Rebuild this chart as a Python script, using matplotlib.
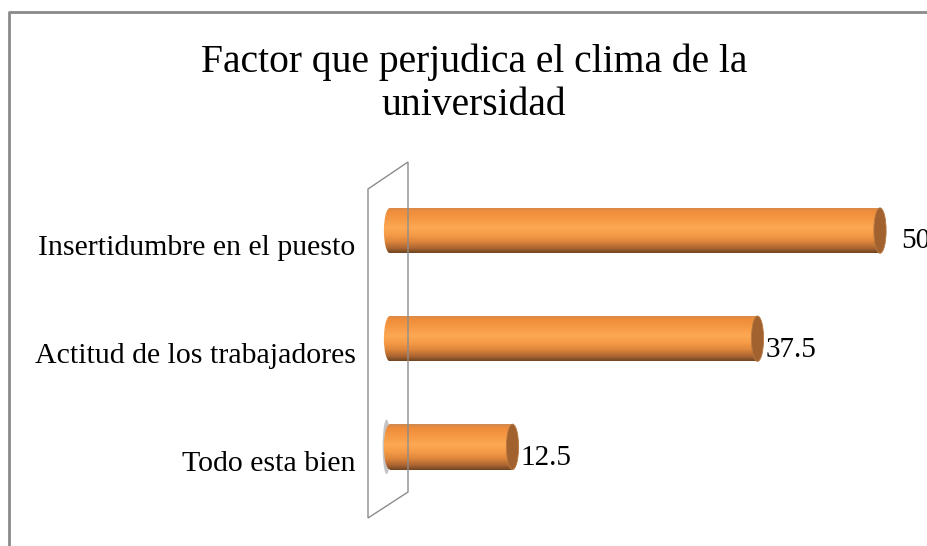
import numpy as np
import matplotlib
matplotlib.use("Agg")
import matplotlib.pyplot as plt
from matplotlib.patches import Ellipse, Polygon, Rectangle
from matplotlib.colors import LinearSegmentedColormap

categories = ["Insertidumbre en el puesto", "Actitud de los trabajadores", "Todo esta bien"]
values = [50, 37.5, 12.5]
value_labels = ["50", "37.5", "12.5"]
title = "Factor que perjudica el clima de la\nuniversidad"

W, H = 928, 546
plt.rcParams["font.family"] = ["Liberation Serif", "DejaVu Serif"]

fig = plt.figure(figsize=(W / 100, H / 100), dpi=100)
fig.patch.set_facecolor("white")

# x scale: 0 -> 390 px, 50 -> 880 px (9.8 px per unit)
px_per_unit = 9.8
x0_px = 390
xmin, xmax = -4, 52
ax_left = x0_px + xmin * px_per_unit
ax_right = x0_px + xmax * px_per_unit
ax_top, ax_bot = 183, 529
ax = fig.add_axes([ax_left / W, 1 - ax_bot / H, (ax_right - ax_left) / W, (ax_bot - ax_top) / H])
ax.axis("off")

cyl = LinearSegmentedColormap.from_list("cyl", [
    (0.0, "#cf8a52"), (0.08, "#ee8c3a"), (0.3, "#f89c47"), (0.45, "#fca854"),
    (0.6, "#f69c48"), (0.75, "#de863b"), (0.9, "#a96431"), (1.0, "#6e4421")])
grad = np.linspace(0, 1, 256).reshape(-1, 1)

bar_h = 0.42
offset = -0.16  # 3d perspective lift of the bars
cap_w = 1.25

# faint shadow on the wall behind the shortest bar
ax.add_patch(Ellipse((-0.35, 2 + offset), 0.8, bar_h * 1.2, facecolor="#8a8a8a",
                     edgecolor="none", alpha=0.5, zorder=2))

for i, (v, lab) in enumerate(zip(values, value_labels)):
    yc = i + offset
    rect = Rectangle((0, yc - bar_h / 2), v, bar_h, transform=ax.transData)
    left_cap = Ellipse((0, yc), cap_w, bar_h, transform=ax.transData)
    for clip in (rect, left_cap):
        im = ax.imshow(grad, cmap=cyl, aspect="auto",
                       extent=(-cap_w, v, yc + bar_h / 2, yc - bar_h / 2),
                       interpolation="bilinear", zorder=3)
        im.set_clip_path(clip)
    ax.add_patch(Ellipse((v, yc), cap_w, bar_h, facecolor="#a2622f",
                         edgecolor="#b87a40", lw=0.6, zorder=4))
    pad = 2.2 if v == max(values) else 0.8
    ax.text(v + pad, i - 0.06, lab, ha="left", va="center", fontsize=21,
            color="black", clip_on=False, zorder=5)

for i, c in enumerate(categories):
    ax.text(-3.5, i, c, ha="right", va="center", fontsize=21.5, color="black",
            clip_on=False)

ax.set_xlim(xmin, xmax)
ax.set_ylim(2.6, -0.6)

# wall drawn in pixel space
wall = [(368, 189), (408, 162), (408, 492), (368, 518)]
fig.patches.append(Polygon([(x / W, 1 - y / H) for x, y in wall], closed=True,
                           transform=fig.transFigure, facecolor="none",
                           edgecolor="#8c8c8c", lw=1.0, zorder=1))

fig.text(474 / W, 1 - 84 / H, title, ha="center", va="center", fontsize=28.5,
         linespacing=1.2, color="black")

# chart border
fig.lines.append(plt.Line2D([9 / W, 9 / W, 1], [0, 1 - 12 / H, 1 - 12 / H],
                            transform=fig.transFigure, color="#8a8a8a", lw=2))

fig.savefig("out.png", dpi=100)
